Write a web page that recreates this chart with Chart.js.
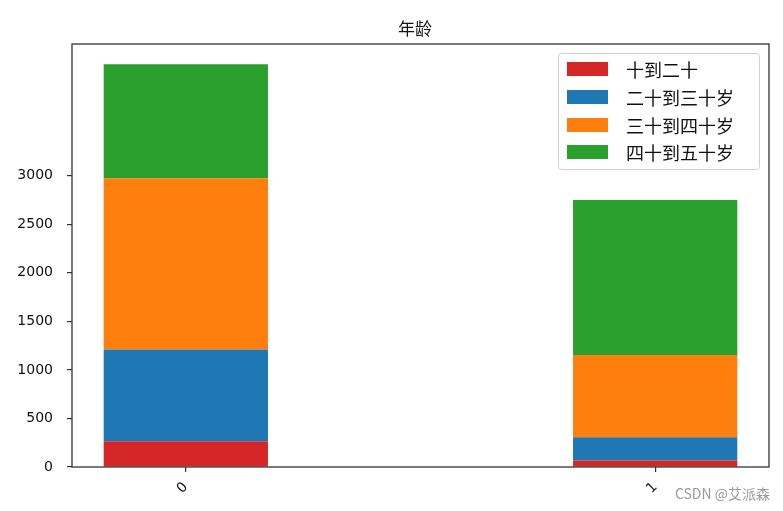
<!DOCTYPE html>
<html>
<head>
<meta charset="utf-8">
<script src="https://cdn.jsdelivr.net/npm/chart.js@4/dist/chart.umd.min.js"></script>
<style>
html,body{margin:0;padding:0;background:#fff;}
#wrap{width:783px;height:511px;position:relative;}
</style>
</head>
<body>
<div id="wrap"><canvas id="c" width="783" height="511"></canvas></div>
<script>
// ---- data ----
const categories = ['0', '1'];
const seriesLabels = ['十到二十', '二十到三十岁', '三十到四十岁', '四十到五十岁'];
const s10to20 = [265, 66];
const s20to30 = [945, 240];
const s30to40 = [1763, 846];
const s40to50 = [1175, 1598];
const yTickValues = [0, 500, 1000, 1500, 2000, 2500, 3000];
const titleText = '年龄';
const watermarkText = 'CSDN @艾派森';

const colors = ['#d62728', '#1f77b4', '#ff7f0e', '#2ca02c'];
const seriesValues = [s10to20, s20to30, s30to40, s40to50];

const datasets = seriesValues.map((vals, i) => ({
  label: seriesLabels[i],
  data: vals.map((v, k) => ({ x: k, y: v })),
  backgroundColor: colors[i],
  borderWidth: 0,
  categoryPercentage: 1.0,
  barPercentage: 0.35
}));

const total0 = seriesValues.reduce((a, s) => a + s[0], 0);
const total1 = seriesValues.reduce((a, s) => a + s[1], 0);
const yMax = Math.max(total0, total1) * 1.05;

const decor = {
  id: 'decor',
  afterDraw(chart) {
    const ctx = chart.ctx;
    const a = chart.chartArea;
    ctx.save();
    // spines
    ctx.strokeStyle = '#333';
    ctx.lineWidth = 1.3;
    ctx.strokeRect(a.left, a.top, a.right - a.left, a.bottom - a.top);
    // title
    ctx.fillStyle = '#111';
    ctx.font = '17px "Noto Sans CJK SC"';
    ctx.textAlign = 'center';
    ctx.textBaseline = 'middle';
    ctx.fillText(titleText, 415, 29);
    // legend
    const lx = 558, ly = 53, lw = 201, lh = 116;
    ctx.fillStyle = 'rgba(255,255,255,0.8)';
    ctx.strokeStyle = '#d0d0d0';
    ctx.lineWidth = 1;
    ctx.beginPath();
    if (ctx.roundRect) ctx.roundRect(lx + 0.5, ly + 0.5, lw, lh, 3); else ctx.rect(lx + 0.5, ly + 0.5, lw, lh);
    ctx.fill();
    ctx.stroke();
    const rows = [69, 97, 125, 152];
    chart.data.datasets.forEach((ds, i) => {
      ctx.fillStyle = ds.backgroundColor;
      ctx.fillRect(567, rows[i] - 7, 41, 14);
      ctx.fillStyle = '#111';
      ctx.font = '18px "Noto Sans CJK SC"';
      ctx.textAlign = 'left';
      ctx.textBaseline = 'middle';
      ctx.fillText(ds.label, 626, rows[i] + 1);
    });
    // watermark
    ctx.fillStyle = '#9a9a9a';
    ctx.font = '14px "Noto Sans CJK SC"';
    ctx.textAlign = 'right';
    ctx.textBaseline = 'middle';
    ctx.fillText(watermarkText, 770, 494);
    ctx.restore();
  }
};

new Chart(document.getElementById('c'), {
  type: 'bar',
  data: { datasets },
  options: {
    responsive: false,
    animation: false,
    layout: { padding: { top: 44, right: 14, left: 0, bottom: 0 } },
    plugins: { legend: { display: false }, title: { display: false }, tooltip: { enabled: false } },
    scales: {
      x: {
        type: 'linear',
        stacked: true,
        min: -0.2425,
        max: 1.2425,
        offset: false,
        afterBuildTicks(scale) { scale.ticks = categories.map((c, i) => ({ value: i })); },
        afterFit(scale) { scale.height = 44; },
        grid: { display: true, offset: false, drawOnChartArea: false, drawTicks: true, tickLength: 5, color: '#333', lineWidth: 1.2 },
        border: { display: false },
        ticks: {
          autoSkip: false,
          minRotation: 45,
          maxRotation: 45,
          padding: 7,
          color: '#111',
          font: { family: 'DejaVu Sans', size: 14 },
          callback: (v) => categories[v]
        }
      },
      y: {
        stacked: true,
        min: 0,
        max: yMax,
        afterBuildTicks(scale) { scale.ticks = yTickValues.map(v => ({ value: v })); },
        afterFit(scale) { scale.width = 72; },
        grid: { display: true, drawOnChartArea: false, drawTicks: true, tickLength: 5, color: '#333', lineWidth: 1.2 },
        border: { display: false },
        ticks: {
          padding: 14,
          color: '#111',
          font: { family: 'DejaVu Sans', size: 14 },
          callback: (v) => String(v)
        }
      }
    }
  },
  plugins: [decor]
});
</script>
</body>
</html>
